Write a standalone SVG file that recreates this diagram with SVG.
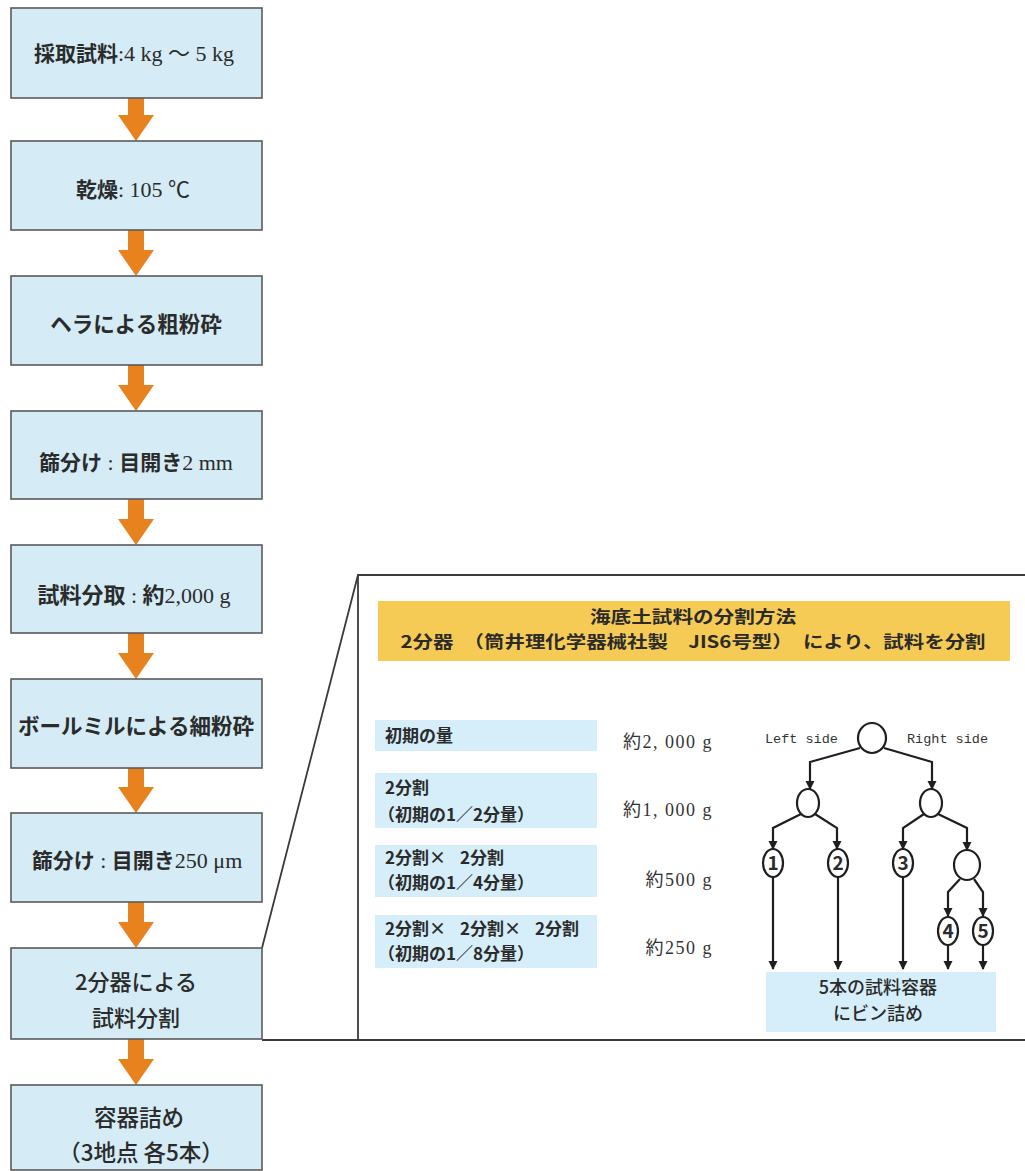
<svg xmlns="http://www.w3.org/2000/svg" width="1025" height="1171" viewBox="0 0 1025 1171">
<style>
.box{fill:#d5ebf6;stroke:#5a5a5a;stroke-width:1.6}
.jp{font-family:"Noto Sans CJK JP","Noto Sans",sans-serif;fill:#2b2b2b}
.b{font-weight:bold}
.m{font-weight:500}
.ser{font-family:"Liberation Serif","Noto Sans CJK JP",serif;font-weight:normal;font-size:22px}
.arr{fill:#e8821e}
.panel{fill:none;stroke:#3a3a3a;stroke-width:1.8}
.tb{fill:#d6eef9}
.val{font-family:"Liberation Serif","Noto Sans CJK JP",serif;fill:#333;font-size:18px;letter-spacing:1.5px}
.tree{fill:none;stroke:#1e1e1e;stroke-width:2.2}
.nd{fill:#fff;stroke:#1e1e1e;stroke-width:2.2}
.mono{font-family:"Liberation Mono",monospace;fill:#333;font-size:13.5px}
.tt{font-size:17px}
</style>
<defs>
<marker id="ah" markerWidth="10" markerHeight="10" refX="8" refY="5" orient="auto" markerUnits="userSpaceOnUse">
<path d="M0,0.5 L9,5 L0,9.5 Z" fill="#1e1e1e"/>
</marker>
</defs>
<rect width="1025" height="1171" fill="#fff"/>

<!-- connectors -->
<g id="connectors">
<path class="arr" d="M128,98 H144 V115 H154 L136,141 L118,115 H128 Z"/>
<path class="arr" d="M128,230 H144 V250 H154 L136,276 L118,250 H128 Z"/>
<path class="arr" d="M128,365 H144 V385 H154 L136,411 L118,385 H128 Z"/>
<path class="arr" d="M128,499 H144 V519 H154 L136,545 L118,519 H128 Z"/>
<path class="arr" d="M128,633 H144 V653 H154 L136,679 L118,653 H128 Z"/>
<path class="arr" d="M128,768 H144 V787 H154 L136,813 L118,787 H128 Z"/>
<path class="arr" d="M128,902 H144 V922 H154 L136,948 L118,922 H128 Z"/>
<path class="arr" d="M128,1039 H144 V1059 H154 L136,1085 L118,1059 H128 Z"/>
</g>

<!-- zoom panel -->
<g id="panel">
<path class="panel" d="M262,948 L358,575 H1025"/>
<path class="panel" d="M358,575 V1040"/>
<path class="panel" d="M262,1040 H1025"/>
</g>

<g id="n1">
<rect class="box" x="11" y="8" width="251" height="90"/>
<text class="jp b" x="134" y="61" font-size="21" text-anchor="middle">採取試料<tspan class="ser">:4 kg ～ 5 kg</tspan></text>
</g>
<g id="n2">
<rect class="box" x="11" y="141" width="251" height="89"/>
<text class="jp b" x="133" y="197" font-size="21" text-anchor="middle">乾燥<tspan class="ser">: 105 ℃</tspan></text>
</g>
<g id="n3">
<rect class="box" x="11" y="276" width="251" height="89"/>
<text class="jp b" x="136" y="332" font-size="21.5" text-anchor="middle">ヘラによる粗粉砕</text>
</g>
<g id="n4">
<rect class="box" x="11" y="411" width="251" height="88"/>
<text class="jp b" x="136" y="470" font-size="21" text-anchor="middle">篩分け<tspan class="ser"> : </tspan>目開き<tspan class="ser">2 mm</tspan></text>
</g>
<g id="n5">
<rect class="box" x="11" y="545" width="251" height="88"/>
<text class="jp b" x="134" y="603" font-size="22" text-anchor="middle">試料分取<tspan class="ser"> : </tspan>約<tspan class="ser">2,000 g</tspan></text>
</g>
<g id="n6">
<rect class="box" x="11" y="679" width="251" height="89"/>
<text class="jp b" x="136" y="734" font-size="21.5" text-anchor="middle">ボールミルによる細粉砕</text>
</g>
<g id="n7">
<rect class="box" x="11" y="813" width="251" height="89"/>
<text class="jp b" x="137" y="868" font-size="21" text-anchor="middle">篩分け<tspan class="ser"> : </tspan>目開き<tspan class="ser">250 μm</tspan></text>
</g>
<g id="n8">
<rect class="box" x="11" y="948" width="251" height="91"/>
<text class="jp m" x="136" y="990" font-size="22" text-anchor="middle">2分器による</text>
<text class="jp m" x="136" y="1026" font-size="22" text-anchor="middle">試料分割</text>
</g>
<g id="n9">
<rect class="box" x="11" y="1085" width="251" height="85"/>
<text class="jp m" x="139" y="1126" font-size="22.5" text-anchor="middle">容器詰め</text>
<text class="jp m" x="141" y="1161" font-size="22.5" text-anchor="middle">（3地点 各5本）</text>
</g>

<g id="header">
<rect x="378" y="601" width="632" height="60" fill="#f6cb55"/>
<text class="jp b" x="693" y="623" font-size="17" text-anchor="middle" textLength="206" lengthAdjust="spacingAndGlyphs">海底土試料の分割方法</text>
<text class="jp b" x="693" y="648" font-size="17" text-anchor="middle" textLength="585" lengthAdjust="spacingAndGlyphs">2分器　（筒井理化学器械社製　JIS6号型）　により、試料を分割</text>
</g>

<g id="table">
<rect class="tb" x="375" y="720" width="222" height="31"/>
<rect class="tb" x="375" y="773" width="222" height="55"/>
<rect class="tb" x="375" y="845" width="222" height="52"/>
<rect class="tb" x="375" y="915" width="222" height="53"/>
<text class="jp b tt" x="385" y="742">初期の量</text>
<text class="jp b tt" x="385" y="794">2分割</text>
<text class="jp b tt" x="378" y="821">（初期の1／2分量）</text>
<text class="jp b tt" x="385" y="864">2分割×<tspan dx="14">2分割</tspan></text>
<text class="jp b tt" x="378" y="889">（初期の1／4分量）</text>
<text class="jp b tt" x="385" y="935">2分割×<tspan dx="14">2分割</tspan>×<tspan dx="14">2分割</tspan></text>
<text class="jp b tt" x="378" y="960">（初期の1／8分量）</text>
<text class="val" x="713" y="748" text-anchor="end">約2, 000 g</text>
<text class="val" x="713" y="816" text-anchor="end">約1, 000 g</text>
<text class="val" x="713" y="886" text-anchor="end">約500 g</text>
<text class="val" x="713" y="954" text-anchor="end">約250 g</text>
</g>

<g id="tree-edges">
<path class="tree" marker-end="url(#ah)" d="M860,748 L810,762 L810,789"/>
<path class="tree" marker-end="url(#ah)" d="M884,748 L932,762 L932,789"/>
<path class="tree" marker-end="url(#ah)" d="M801,814 L773,828 L773,849"/>
<path class="tree" marker-end="url(#ah)" d="M815,814 L837,828 L837,849"/>
<path class="tree" marker-end="url(#ah)" d="M924,814 L903,828 L903,849"/>
<path class="tree" marker-end="url(#ah)" d="M938,814 L967,828 L967,850"/>
<path class="tree" marker-end="url(#ah)" d="M960,879 L948,892 L948,916"/>
<path class="tree" marker-end="url(#ah)" d="M974,879 L983,892 L983,916"/>
<path class="tree" marker-end="url(#ah)" d="M773,877 V969"/>
<path class="tree" marker-end="url(#ah)" d="M838,877 V969"/>
<path class="tree" marker-end="url(#ah)" d="M903,877 V969"/>
<path class="tree" marker-end="url(#ah)" d="M948,945 V969"/>
<path class="tree" marker-end="url(#ah)" d="M983,945 V969"/>
</g>

<g id="tree-nodes">
<text class="mono" x="765" y="743">Left side</text>
<text class="mono" x="907" y="743">Right side</text>
<g id="t-root"><ellipse class="nd" cx="872" cy="738" rx="14" ry="15"/></g>
<g id="t-l"><ellipse class="nd" cx="808" cy="803" rx="11" ry="14"/></g>
<g id="t-r"><ellipse class="nd" cx="931" cy="803" rx="11" ry="14"/></g>
<g id="t-1"><ellipse class="nd" cx="773" cy="863" rx="10" ry="14"/><text class="jp b" x="773" y="870" font-size="19" text-anchor="middle">1</text></g>
<g id="t-2"><ellipse class="nd" cx="838" cy="863" rx="10" ry="14"/><text class="jp b" x="838" y="870" font-size="19" text-anchor="middle">2</text></g>
<g id="t-3"><ellipse class="nd" cx="903" cy="863" rx="10" ry="14"/><text class="jp b" x="903" y="870" font-size="19" text-anchor="middle">3</text></g>
<g id="t-rr"><ellipse class="nd" cx="967" cy="865" rx="13" ry="15"/></g>
<g id="t-4"><ellipse class="nd" cx="948" cy="931" rx="10" ry="14"/><text class="jp b" x="948" y="938" font-size="19" text-anchor="middle">4</text></g>
<g id="t-5"><ellipse class="nd" cx="983" cy="931" rx="10" ry="14"/><text class="jp b" x="983" y="938" font-size="19" text-anchor="middle">5</text></g>
</g>

<g id="bottles">
<rect class="tb" x="766" y="972" width="230" height="60"/>
<text class="jp m" x="878" y="994" font-size="18" text-anchor="middle">5本の試料容器</text>
<text class="jp m" x="878" y="1020" font-size="18" text-anchor="middle">にビン詰め</text>
</g>
</svg>
